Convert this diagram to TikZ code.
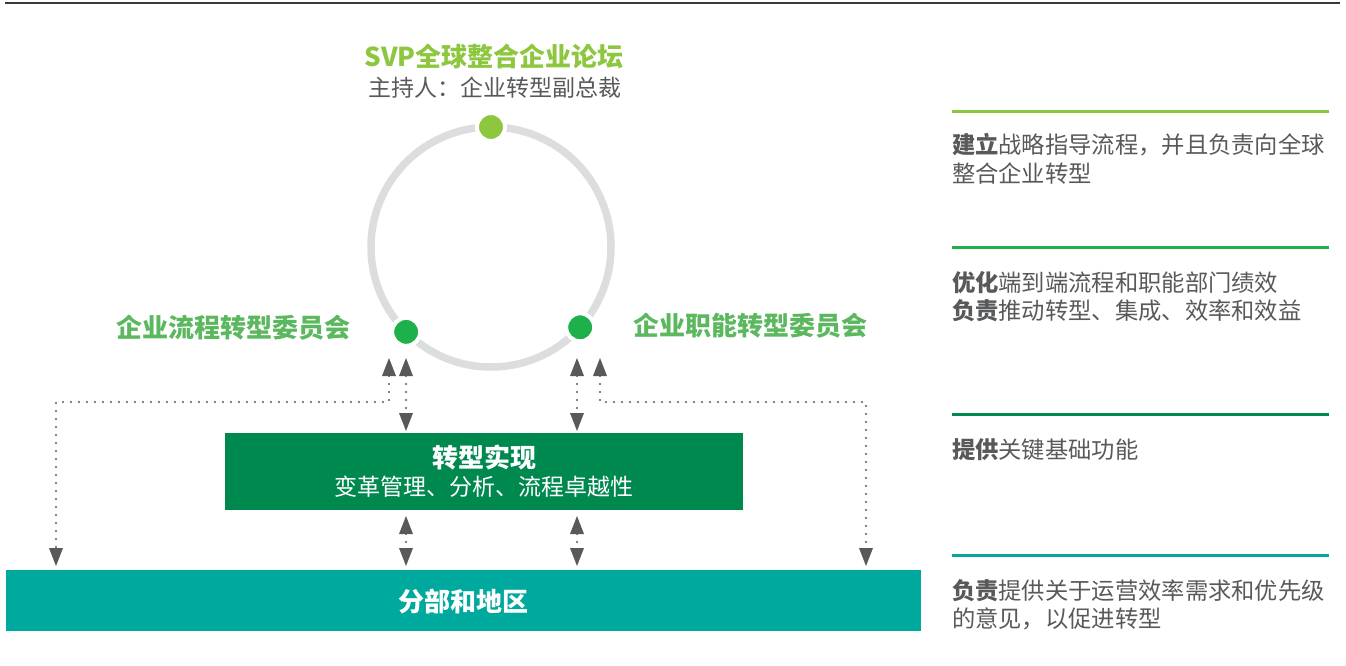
\documentclass[tikz,border=0pt]{standalone}
\usepackage{fontspec}
\setmainfont{Noto Sans CJK SC}
\usetikzlibrary{arrows.meta}
\definecolor{lime}{HTML}{8DC63F}
\definecolor{dotgreen}{HTML}{1DB04B}
\definecolor{labgreen}{HTML}{5CB85F}
\definecolor{darkgreen}{HTML}{00894F}
\definecolor{tealbox}{HTML}{00A99D}
\definecolor{txtgray}{HTML}{58595B}
\definecolor{ringgray}{HTML}{DCDDDE}
\definecolor{topline}{HTML}{3A3A3A}
\begin{document}
\begin{tikzpicture}[x=1pt,y=-1pt,
  ctext/.style={anchor=base, inner sep=0pt, outer sep=0pt},
  rtext/.style={anchor=base west, inner sep=0pt, outer sep=0pt, text=txtgray, font=\fontsize{23.3}{28}\selectfont},
  gdot/.style={circle, draw=white, line width=4pt, minimum size=28pt, inner sep=0pt},
  conn/.style={draw=txtgray, line width=2.4pt, dash pattern=on 0pt off 8pt, line cap=round,
    >={Triangle[length=18pt,width=14pt,line width=0pt]}, <->},
  sepline/.style={line width=3pt},
  box/.style={inner sep=0pt, outer sep=0pt}]
\useasboundingbox (0,0) rectangle (1346,665);
% top rule
\draw[topline, line width=2pt] (5,2.5) -- (1340,2.5);

% ring and dots
\node[circle, draw=ringgray, line width=7.5pt, minimum size=240pt, inner sep=0pt, outer sep=0pt] (ring) at (491,247) {};
\node[gdot, fill=lime] (dtop) at (ring.90) {};
\node[gdot, fill=dotgreen] (dleft) at (ring.225) {};
\node[gdot, fill=dotgreen] (dright) at (ring.-42) {};

% titles
\node[ctext, text=lime, font=\bfseries\fontsize{26}{30}\selectfont] (title) at (494,66) {SVP全球整合企业论坛};
\node[ctext, text=txtgray, font=\fontsize{23}{28}\selectfont] (sub) at (495,96) {主持人：企业转型副总裁};
\node[ctext, text=labgreen, font=\bfseries\fontsize{26}{30}\selectfont] (lproc) at (233.5,337) {企业流程转型委员会};
\node[ctext, text=labgreen, font=\bfseries\fontsize{26}{30}\selectfont] (lfunc) at (750.5,335) {企业职能转型委员会};

% boxes
\node[box, fill=darkgreen, minimum width=518pt, minimum height=77pt] (impl) at (484,471.5) {};
\node[ctext, text=white, font=\bfseries\fontsize{26}{30}\selectfont] (implt) at (484,467) {转型实现};
\node[ctext, text=white, font=\fontsize{23}{28}\selectfont] (impls) at (484,495.5) {变革管理、分析、流程卓越性};
\node[box, fill=tealbox, minimum width=915pt, minimum height=61pt] (div) at (463.5,600.5) {};
\node[ctext, text=white, font=\bfseries\fontsize{26}{30}\selectfont] (divt) at (463,611) {分部和地区};

% connector coordinates
\coordinate (pL) at (406,358);
\coordinate (aL) at (389,358);
\coordinate (bL) at (56,402);
\coordinate (pR) at (577,358);
\coordinate (aR) at (600,358);
\coordinate (bR) at (866,402);

% connectors
\draw[conn, shorten >=2pt] (pL) -- (pL |- impl.north);
\draw[conn, shorten >=2pt] (pR) -- (pR |- impl.north);
\draw[conn, shorten >=4pt] (aL) |- (bL) -- (bL |- div.north);
\draw[conn, shorten >=4pt] (aR) |- (bR) -- (bR |- div.north);
\draw[conn, shorten <=6pt, shorten >=4pt] (pL |- impl.south) -- (pL |- div.north);
\draw[conn, shorten <=6pt, shorten >=4pt] (pR |- impl.south) -- (pR |- div.north);

% right column
\draw[sepline, lime] (952,111.5) -- (1329,111.5);
\draw[sepline, dotgreen] (952,247) -- (1329,247);
\draw[sepline, darkgreen] (952,414) -- (1329,414);
\draw[sepline, tealbox] (952,555) -- (1329,555);

\node[rtext] (r1a) at (952,153) {\textbf{建立}战略指导流程，并且负责向全球};
\node[rtext] (r1b) at (952,182) {整合企业转型};
\node[rtext] (r2a) at (952,291) {\textbf{优化}端到端流程和职能部门绩效};
\node[rtext] (r2b) at (952,319) {\textbf{负责}推动转型、集成、效率和效益};
\node[rtext] (r3a) at (952,458) {\textbf{提供}关键基础功能};
\node[rtext] (r4a) at (952,599) {\textbf{负责}提供关于运营效率需求和优先级};
\node[rtext] (r4b) at (952,627) {的意见，以促进转型};
\end{tikzpicture}
\end{document}
